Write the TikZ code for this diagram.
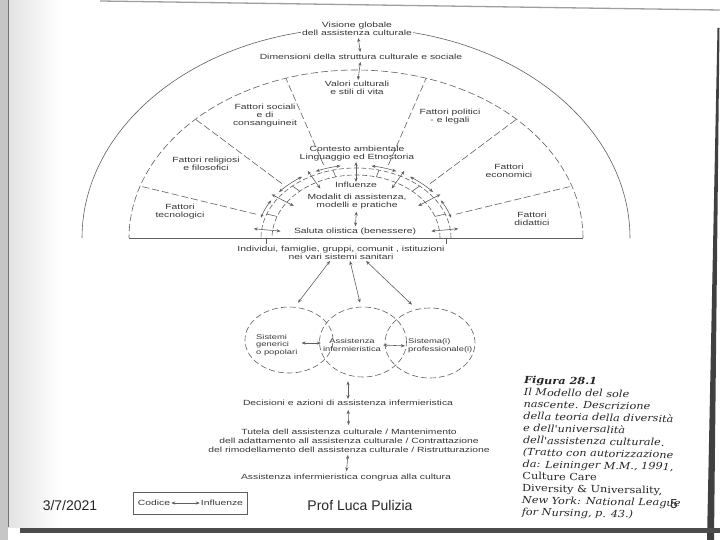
\documentclass[tikz,border=0pt]{standalone}
\usepackage{fontspec}
\setmainfont{Liberation Sans}
\newfontfamily\scanfont[FakeStretch=1.38]{Liberation Sans}
\newfontfamily\capfont[FakeStretch=1.15]{DejaVu Serif}
\usetikzlibrary{arrows.meta,positioning,shapes.geometric,fit}
\definecolor{ink}{RGB}{55,55,55}
\definecolor{pen}{RGB}{95,95,95}
\tikzset{
  >={Stealth[length=4pt,width=3.2pt]},
  lbl/.style={font=\scanfont\fontsize{7.5}{8}\selectfont,text=ink,align=center,inner sep=1pt},
  small lbl/.style={lbl,font=\scanfont\fontsize{6.8}{7.6}\selectfont},
  dbl/.style={<->,draw=pen,line width=0.6pt},
  ring/.style={draw=pen,line width=0.6pt,dash pattern=on 7pt off 3pt},
  band/.style={draw=pen,line width=0.6pt,dash pattern=on 5pt off 2.5pt},
  realm/.style={ellipse,draw=pen,line width=0.6pt,dash pattern=on 6pt off 3pt},
  foot/.style={font=\fontsize{14}{16}\selectfont,text=black!85},
}
\begin{document}
\begin{tikzpicture}[x=1pt,y=-1pt]
  \useasboundingbox (0,0) rectangle (720,540);
  % scanned page edges
  \fill[gray!45] (0,0) rectangle (8,540);
  \shade[left color=gray!22,right color=white] (8,0) rectangle (60,527);
  \draw[black!55,line width=0.8pt] (8,0) -- (8,527);
  \draw[gray!75,line width=1.3pt] (100,1) -- (720,10);
  \fill[black!75] (717.5,28) -- (719.5,28) -- (714,540) -- (707,540) -- cycle;
  \fill[black!70] (20,528) rectangle (720,533);
  % sunrise rings
  \draw[pen,line width=0.6pt] plot[domain=0:180,samples=120] ({356+274*cos(\x)},{238-210*sin(\x)});
  \draw[ring] plot[domain=0:180,samples=120] ({356+227*cos(\x)},{238-168*sin(\x)});
  \draw[band] plot[domain=0:180,samples=60] ({356+95*cos(\x)},{238-70*sin(\x)});
  \draw[band] plot[domain=0:180,samples=60] ({356+84*cos(\x)},{238-63*sin(\x)});
  \draw[pen,line width=0.8pt] (129,238) -- (583,238);
  \foreach \x in {266,446} \draw[pen,line width=0.6pt] (\x,238) -- (\x,244);
  % sector dividers
  \foreach \t in {18,45,72,108,135,162}
    \draw[ring] ({356+105*cos(\t)},{238-77*sin(\t)}) -- ({356+227*cos(\t)},{238-168*sin(\t)});
  % influences on the inner band
  \foreach \t in {160,132,104,76,48,20}
    \draw[pen,line width=0.6pt] ({356+84*cos(\t)},{238-63*sin(\t)}) -- ({356+95*cos(\t)},{238-70*sin(\t)});
  \foreach \s/\e in {149/164,123/141,99/114,66/81,39/57,16/31}
    \draw[dbl] plot[domain=\s:\e,samples=8] ({356+99*cos(\x)},{238-73*sin(\x)});
  \foreach \t in {173,145,118,90,62,35,7}
    \draw[dbl] ({356+76*cos(\t)},{238-56*sin(\t)}) -- ({356+103*cos(\t)},{238-76*sin(\t)});

  \node[lbl,fill=white] (vis) at (357,29) {Visione globale\\dell assistenza culturale};
  \node[lbl] (dim) at (361,57) {Dimensioni della struttura culturale e sociale};
  \node[lbl] (val) at (357,88) {Valori culturali\\e stili di vita};
  \node[lbl] (soc) at (265,116) {Fattori sociali\\e di\\consanguineit};
  \node[lbl] (pol) at (450,117) {Fattori politici\\- e legali};
  \node[lbl] (rel) at (206,164) {Fattori religiosi\\e filosofici};
  \node[lbl] (eco) at (509,171) {Fattori\\economici};
  \node[lbl] (tec) at (180,212) {Fattori\\tecnologici};
  \node[lbl] (did) at (532,219) {Fattori\\didattici};
  \node[lbl] (cont) at (357,154) {Contesto ambientale\\Linguaggio ed Etnostoria};
  \node[lbl] (infl) at (356,185) {Influenze};
  \node[lbl] (mod) at (357,202) {Modalit di assistenza,\\modelli e pratiche};
  \node[lbl] (sal) at (355,232) {Saluta olistica (benessere)};
  \node[lbl] (ind) at (341,253) {Individui, famiglie, gruppi, comunit , istituzioni\\nei vari sistemi sanitari};
  \draw[dbl,shorten <=1pt,shorten >=1pt] (vis) -- (dim);
  \draw[dbl,shorten <=1pt] (dim) -- (val);
  \draw[dbl,shorten <=1pt,shorten >=1pt] (mod) -- (sal);

  % care systems
  \node[realm,minimum width=88pt,minimum height=66pt] (gen) at (289,340) {};
  \node[realm,minimum width=87pt,minimum height=70pt] (care) at (363,342) {};
  \node[realm,minimum width=90pt,minimum height=70pt] (prof) at (430,343) {};
  \node[small lbl,anchor=west,align=left] (gent) at (255,345) {Sistemi\\generici\\o popolari};
  \node[small lbl] (caret) at (352,345) {Assistenza\\infermieristica};
  \node[small lbl,anchor=west,align=left] (proft) at (407,346) {Sistema(i)\\professionale(i)};
  \draw[dbl] ([xshift=-11pt]ind.south) -- ([xshift=9pt,yshift=4pt]gen.north);
  \draw[dbl] ([xshift=9pt]ind.south) -- ([xshift=-3pt,yshift=4pt]care.north);
  \draw[dbl] ([xshift=25pt]ind.south) -- ([xshift=-18pt,yshift=3pt]prof.north);
  \draw[dbl,shorten <=3pt,shorten >=1pt] ([yshift=2pt]gent.east) -- ([yshift=2pt]caret.west);
  \draw[dbl,shorten <=1pt,shorten >=2pt] (caret.east) -- (proft.west);

  % decisions and actions
  \node[lbl] (dec) at (348,403) {Decisioni e azioni di assistenza infermieristica};
  \node[lbl,font=\scanfont\fontsize{7.5}{9}\selectfont] (tut) at (349,441) {Tutela dell assistenza culturale / Mantenimento\\dell adattamento all assistenza culturale / Contrattazione\\del rimodellamento dell assistenza culturale / Ristrutturazione};
  \node[lbl] (cong) at (346,478) {Assistenza infermieristica congrua alla cultura};
  \draw[dbl,shorten <=4pt] (dec.north |- care.south) -- (dec.north);
  \draw[dbl,shorten <=3pt,shorten >=3pt] (dec) -- (tut);
  \draw[dbl,shorten <=1pt,shorten >=2pt] (tut) -- (cong);

  % legend
  \node[lbl] (cod) at (154,503) {Codice};
  \node[lbl] (inf) at (222,503) {Influenze};
  \draw[dbl] (cod) -- (inf);
  \node[draw=pen,line width=0.6pt,inner xsep=3pt,minimum height=22pt,fit=(cod)(inf)] (legend) {};

  % caption
  \node[anchor=north west,align=left,rotate=-1,inner sep=0pt,text=black!85,
    font=\capfont\itshape\fontsize{9.8}{12}\selectfont] (cap) at (524,376)
    {\textbf{Figura 28.1}\\Il Modello del sole\\nascente. Descrizione\\della teoria della diversità\\e dell'universalità\\dell'assistenza culturale.\\(Tratto con autorizzazione\\da: Leininger M.M., 1991,\\{\upshape Culture Care}\\{\upshape Diversity \& Universality,}\\New York: National League\\for Nursing, p. 43.)};

  % slide footer
  \node[foot] (date) at (70,505) {3/7/2021};
  \node[foot] (author) at (360,505) {Prof Luca Pulizia};
  \node[foot,font=\fontsize{13}{15}\selectfont] (page) at (674,504) {5};
\end{tikzpicture}
\end{document}
